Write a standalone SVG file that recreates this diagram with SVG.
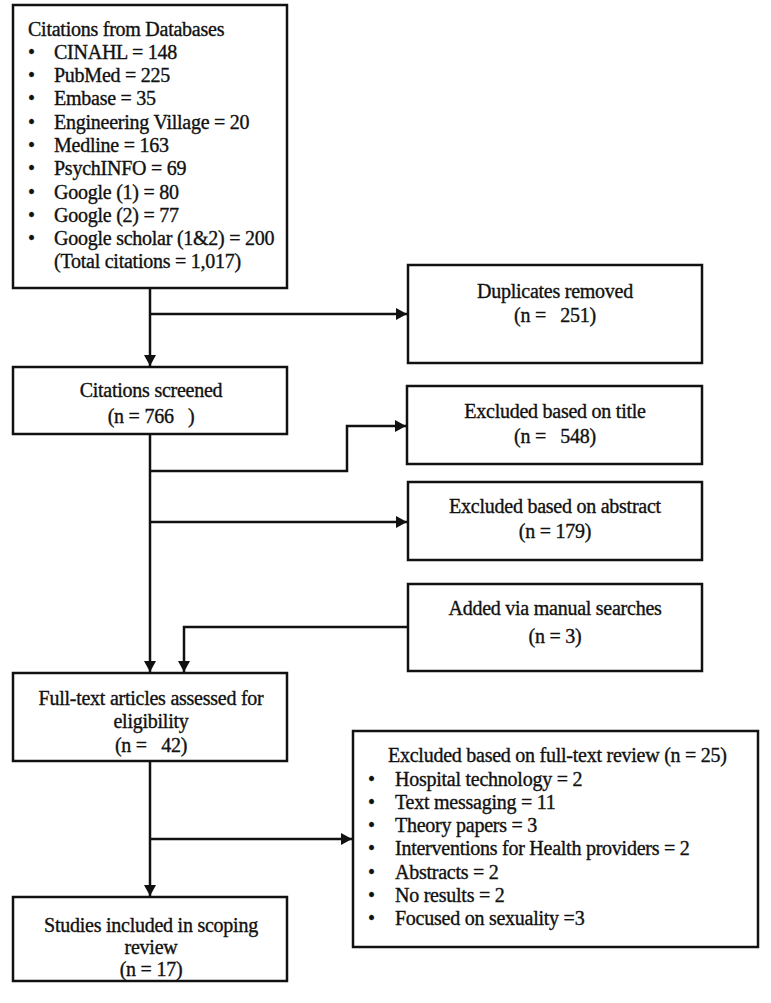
<svg xmlns="http://www.w3.org/2000/svg" width="771" height="1003" viewBox="0 0 771 1003">
<defs>
<marker id="arr" markerUnits="userSpaceOnUse" markerWidth="12" markerHeight="12" refX="11" refY="6" orient="auto">
<path d="M0,0 L11,6 L0,12 z" fill="#111"/>
</marker>
<style>
.box{fill:#fff;stroke:#111;stroke-width:2.5}
.t{font-family:"Liberation Serif","Times New Roman",serif;font-size:20px;fill:#111;stroke:#111;stroke-width:0.35;letter-spacing:-0.25px}
.c{text-anchor:middle}
.ln{fill:none;stroke:#111;stroke-width:2.5}
</style>
</defs>
<rect width="771" height="1003" fill="#fff"/>

<g id="databases">
<rect class="box" x="13" y="5" width="274" height="283"/>
<text class="t" x="28" y="35.5">Citations from Databases</text>
<g class="t">
<text x="28" y="59">•</text><text x="54" y="59">CINAHL = 148</text>
<text x="28" y="82">•</text><text x="54" y="82">PubMed = 225</text>
<text x="28" y="105">•</text><text x="54" y="105">Embase = 35</text>
<text x="28" y="128.5">•</text><text x="54" y="128.5">Engineering Village = 20</text>
<text x="28" y="152">•</text><text x="54" y="152">Medline = 163</text>
<text x="28" y="175">•</text><text x="54" y="175">PsychINFO = 69</text>
<text x="28" y="198.5">•</text><text x="54" y="198.5">Google (1) = 80</text>
<text x="28" y="222">•</text><text x="54" y="222">Google (2) = 77</text>
<text x="28" y="245">•</text><text x="54" y="245">Google scholar (1&amp;2) = 200</text>
<text x="54" y="268">(Total citations = 1,017)</text>
</g>
</g>

<g id="duplicates">
<rect class="box" x="408" y="265" width="294" height="98"/>
<text class="t c" x="555" y="298">Duplicates removed</text>
<text class="t c" x="555" y="322" xml:space="preserve">(n =   251)</text>
</g>

<g id="screened">
<rect class="box" x="13" y="367" width="274" height="67"/>
<text class="t c" x="151" y="397">Citations screened</text>
<text class="t c" x="151" y="423" xml:space="preserve">(n = 766   )</text>
</g>

<g id="title">
<rect class="box" x="407" y="386" width="295" height="78"/>
<text class="t c" x="555" y="418">Excluded based on title</text>
<text class="t c" x="555" y="443" xml:space="preserve">(n =   548)</text>
</g>

<g id="abstract">
<rect class="box" x="408" y="482" width="294" height="78"/>
<text class="t c" x="555" y="513">Excluded based on abstract</text>
<text class="t c" x="555" y="538">(n = 179)</text>
</g>

<g id="manual">
<rect class="box" x="408" y="584" width="294" height="87"/>
<text class="t c" x="555" y="615">Added via manual searches</text>
<text class="t c" x="555" y="643">(n = 3)</text>
</g>

<g id="fulltext">
<rect class="box" x="13" y="673" width="274" height="88"/>
<text class="t c" x="151" y="705">Full-text articles assessed for</text>
<text class="t c" x="151" y="728">eligibility</text>
<text class="t c" x="151" y="752" xml:space="preserve">(n =   42)</text>
</g>

<g id="fulltext-excluded">
<rect class="box" x="353" y="731" width="405" height="216"/>
<text class="t" x="388" y="762">Excluded based on full-text review (n = 25)</text>
<g class="t">
<text x="368" y="785.5">•</text><text x="395" y="785.5">Hospital technology = 2</text>
<text x="368" y="808.5">•</text><text x="395" y="808.5">Text messaging = 11</text>
<text x="368" y="832">•</text><text x="395" y="832">Theory papers = 3</text>
<text x="368" y="855">•</text><text x="395" y="855">Interventions  for Health providers = 2</text>
<text x="368" y="878.5">•</text><text x="395" y="878.5">Abstracts = 2</text>
<text x="368" y="902">•</text><text x="395" y="902">No results = 2</text>
<text x="368" y="925">•</text><text x="395" y="925">Focused on sexuality =3</text>
</g>
</g>

<g id="included">
<rect class="box" x="13" y="897" width="274" height="84"/>
<text class="t c" x="151" y="932">Studies included in scoping</text>
<text class="t c" x="151" y="954">review</text>
<text class="t c" x="151" y="976">(n = 17)</text>
</g>

<g id="connectors">
<path class="ln" d="M150,288 V366" marker-end="url(#arr)"/>
<path class="ln" d="M150,314 H407" marker-end="url(#arr)"/>
<path class="ln" d="M150,434 V672" marker-end="url(#arr)"/>
<path class="ln" d="M150,471 H347 V426 H406" marker-end="url(#arr)"/>
<path class="ln" d="M150,522 H407" marker-end="url(#arr)"/>
<path class="ln" d="M408,627 H184 V672" marker-end="url(#arr)"/>
<path class="ln" d="M150,761 V896" marker-end="url(#arr)"/>
<path class="ln" d="M150,839 H352" marker-end="url(#arr)"/>
</g>
</svg>
